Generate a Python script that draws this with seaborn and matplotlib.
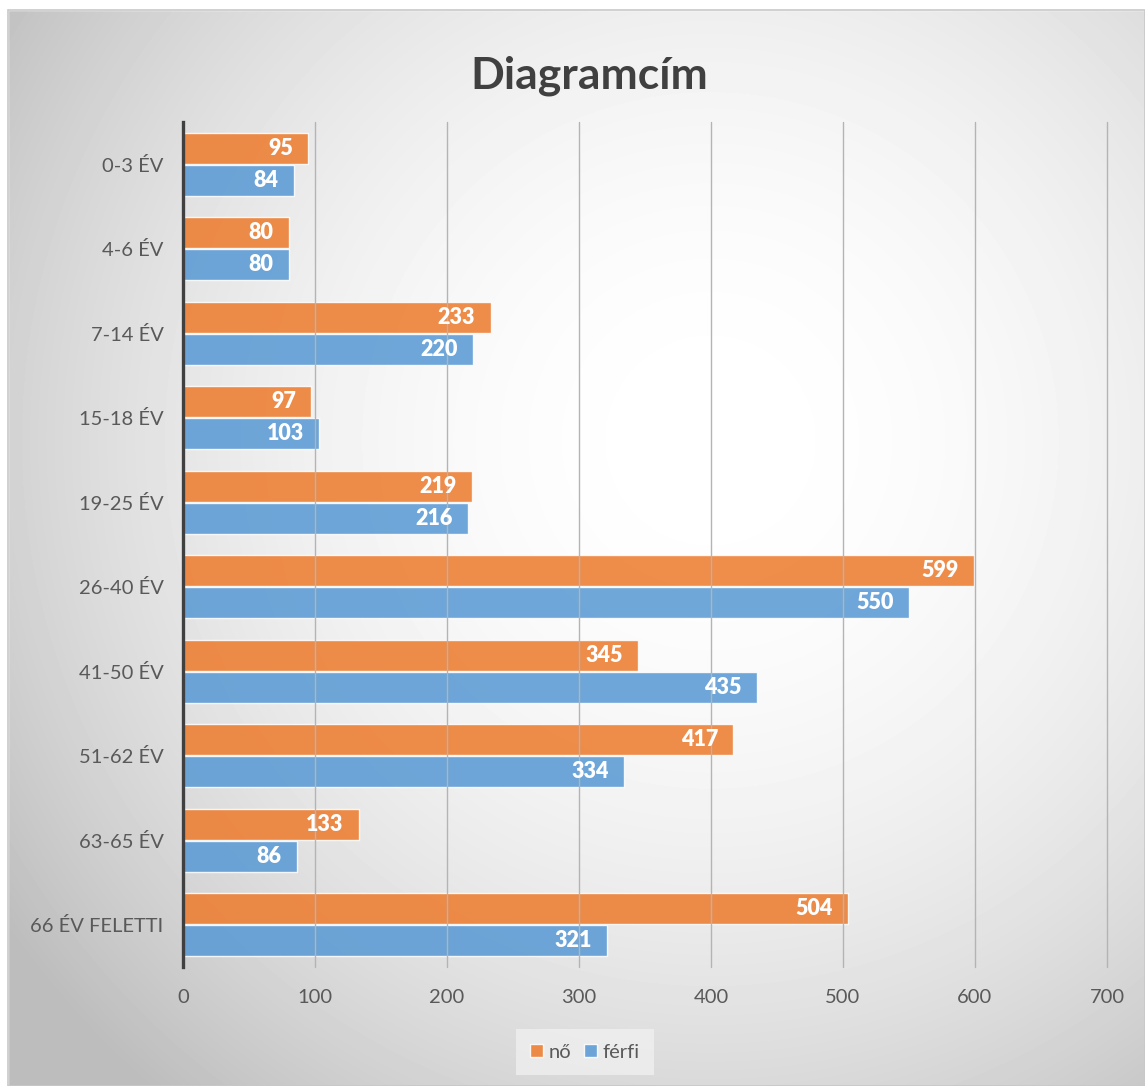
import numpy as np
import pandas as pd
import matplotlib.pyplot as plt
import seaborn as sns
from matplotlib.patches import Patch, Rectangle

# Values
categories = ["0-3 ÉV", "4-6 ÉV", "7-14 ÉV", "15-18 ÉV", "19-25 ÉV",
              "26-40 ÉV", "41-50 ÉV", "51-62 ÉV", "63-65 ÉV", "66 ÉV FELETTI"]
no_values = [95, 80, 233, 97, 219, 599, 345, 417, 133, 504]
ferfi_values = [84, 80, 220, 103, 216, 550, 435, 334, 86, 321]
series = ["nő", "férfi"]
colors = {"nő": "#ED7D31", "férfi": "#5B9BD5"}
x_ticks = [0, 100, 200, 300, 400, 500, 600, 700]

df = pd.DataFrame({
    "kategoria": categories * 2,
    "ertek": no_values + ferfi_values,
    "nem": ["nő"] * len(categories) + ["férfi"] * len(categories),
})

sns.set_style("white")
plt.rcParams["font.family"] = ["Lato", "DejaVu Sans"]

W, H = 1145, 1086
fig = plt.figure(figsize=(W / 100, H / 100), dpi=100)
fig.patch.set_facecolor("white")

# radial gradient background of the chart area
bg = fig.add_axes([0, 0, 1, 1], zorder=-10)
yy, xx = np.mgrid[0:H, 0:W]
d = np.hypot(xx - 710, yy - 440) / 823
shade = np.clip(1 - 0.24 * d ** 2, 0.74, 1)
bg.imshow(shade, cmap="gray", vmin=0, vmax=1, extent=(0, W, H, 0),
          aspect="auto", interpolation="bilinear")
bg.add_patch(Rectangle((0, 0), 8, H, color="white", zorder=2))
bg.add_patch(Rectangle((0, 0), W, 10, color="white", zorder=2))
bg.add_patch(Rectangle((8, 10), W - 8, H - 10, fill=False,
                       edgecolor="#c8c8c8", lw=1.2, zorder=3))
bg.set_xlim(0, W)
bg.set_ylim(H, 0)
bg.axis("off")

ax = fig.add_axes([183 / W, 1 - 967 / H, (1107 - 183) / W, (967 - 122) / H])
ax.set_facecolor("none")

sns.barplot(data=df, x="ertek", y="kategoria", hue="nem", hue_order=series,
            palette=colors, orient="h", width=0.76, gap=0.03, saturation=1,
            alpha=0.88, edgecolor=(1, 1, 1, 0.45), linewidth=1.0,
            legend=False, ax=ax)

for p in ax.patches:
    w = p.get_width()
    ax.annotate(f"{w:.0f}", (w, p.get_y() + p.get_height() / 2),
                xytext=(-11, 0), textcoords="offset points",
                ha="right", va="center", color="white",
                fontsize=15.5, fontweight="heavy")

ax.set_xlim(0, 700)
ax.set_xticks(x_ticks)
ax.set_ylim(9.5, -0.5)
ax.set_xlabel("")
ax.set_ylabel("")
ax.grid(axis="x", color="#b4b4b4", linewidth=1.0)
ax.grid(axis="y", visible=False)
for gl in ax.get_xgridlines():
    gl.set_clip_on(False)
ax.set_axisbelow(False)
for s in ["top", "right", "bottom"]:
    ax.spines[s].set_visible(False)
ax.spines["left"].set_color("#404040")
ax.spines["left"].set_linewidth(2.4)
ax.spines["left"].set_zorder(5)
ax.tick_params(axis="x", length=0, pad=16, labelsize=14.5, labelcolor="#595959")
ax.tick_params(axis="y", length=0, pad=14, labelsize=14.5, labelcolor="#595959")

fig.text(589 / W, 1 - 76 / H, "Diagramcím", ha="center", va="center",
         fontsize=32, fontweight="bold", color="#404040")

handles = [Patch(facecolor=colors[s], alpha=0.88, label=s) for s in series]
leg = fig.legend(handles=handles, loc="center", bbox_to_anchor=(585 / W, 1 - 1052 / H),
                 ncol=2, frameon=True, fontsize=14.5, handlelength=0.65,
                 handleheight=0.65, handletextpad=0.3, columnspacing=0.6,
                 borderpad=0.7)
leg.get_frame().set_facecolor("#f2f2f2")
leg.get_frame().set_edgecolor("none")
leg.get_frame().set_alpha(0.7)
leg.get_frame().set_boxstyle("square", pad=0)
for t in leg.get_texts():
    t.set_color("#595959")

plt.savefig("out.png", dpi=100)
